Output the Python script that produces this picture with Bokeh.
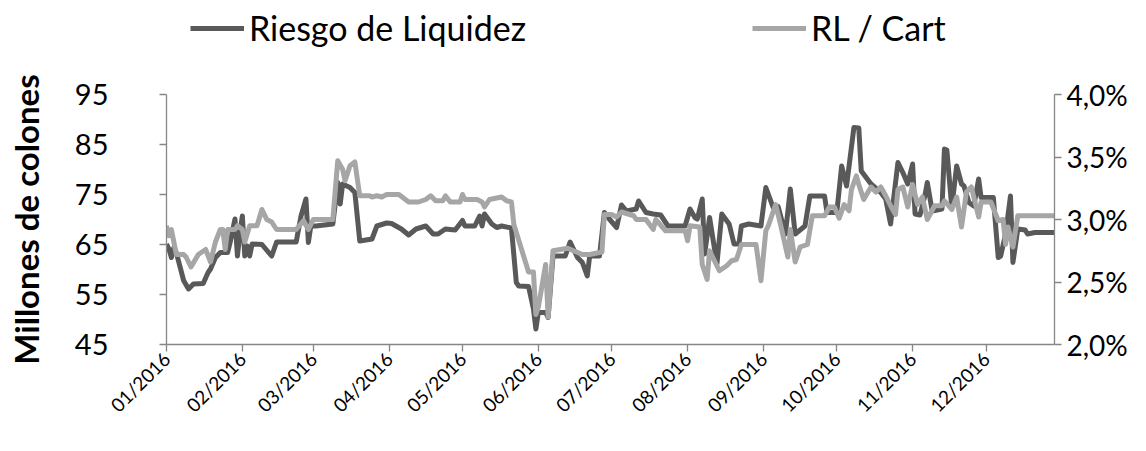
import pandas as pd
from datetime import datetime
from bokeh.plotting import figure
from bokeh.layouts import column
from bokeh.models import (Range1d, LinearAxis, FixedTicker, CustomJSTickFormatter,
                          DatetimeTickFormatter, MonthsTicker, Legend, LegendItem,
                          ColumnDataSource)
from bokeh.embed import file_html
from bokeh.resources import INLINE

# ---------------- data ----------------
fechas_riesgo = [
    # Jan
    "2016-01-01", "2016-01-02", "2016-01-03", "2016-01-04", "2016-01-05", "2016-01-08",
    "2016-01-10", "2016-01-12", "2016-01-16", "2016-01-18", "2016-01-19", "2016-01-21",
    "2016-01-23", "2016-01-26", "2016-01-27", "2016-01-29", "2016-01-30", "2016-01-31",
    # Feb
    "2016-02-01", "2016-02-02", "2016-02-03", "2016-02-04", "2016-02-05", "2016-02-09",
    "2016-02-13", "2016-02-15", "2016-02-23", "2016-02-25", "2016-02-27", "2016-02-28",
    "2016-02-29",
    # Mar
    "2016-03-02", "2016-03-09", "2016-03-11", "2016-03-12", "2016-03-13", "2016-03-16",
    "2016-03-18", "2016-03-20", "2016-03-25", "2016-03-27", "2016-03-31",
    # Apr
    "2016-04-02", "2016-04-06", "2016-04-09", "2016-04-12", "2016-04-16", "2016-04-19",
    "2016-04-21", "2016-04-24", "2016-04-28",
    # May
    "2016-05-01", "2016-05-02", "2016-05-06", "2016-05-08", "2016-05-09", "2016-05-10",
    "2016-05-13", "2016-05-15", "2016-05-17", "2016-05-21", "2016-05-23", "2016-05-24",
    "2016-05-28", "2016-05-30", "2016-05-31",
    # Jun
    "2016-06-01", "2016-06-04", "2016-06-05", "2016-06-07", "2016-06-12", "2016-06-14",
    "2016-06-17", "2016-06-19", "2016-06-21", "2016-06-22", "2016-06-26", "2016-06-28",
    "2016-06-30",
    # Jul
    "2016-07-03", "2016-07-05", "2016-07-07", "2016-07-11", "2016-07-12", "2016-07-15",
    "2016-07-18", "2016-07-21", "2016-07-24", "2016-07-31",
    # Aug
    "2016-08-02", "2016-08-04", "2016-08-05", "2016-08-07", "2016-08-08", "2016-08-10",
    "2016-08-13", "2016-08-15", "2016-08-18", "2016-08-20", "2016-08-22", "2016-08-23",
    "2016-08-26", "2016-08-31",
    # Sep
    "2016-09-02", "2016-09-05", "2016-09-07", "2016-09-10", "2016-09-12", "2016-09-14",
    "2016-09-18", "2016-09-20", "2016-09-26", "2016-09-27",
    # Oct
    "2016-10-01", "2016-10-03", "2016-10-05", "2016-10-08", "2016-10-10", "2016-10-11",
    "2016-10-15", "2016-10-19", "2016-10-21", "2016-10-23", "2016-10-26", "2016-10-28",
    "2016-10-30",
    # Nov
    "2016-11-01", "2016-11-02", "2016-11-04", "2016-11-06", "2016-11-07", "2016-11-09",
    "2016-11-13", "2016-11-14", "2016-11-15", "2016-11-17", "2016-11-19", "2016-11-21",
    "2016-11-22", "2016-11-24", "2016-11-26", "2016-11-28", "2016-11-29",
    # Dec
    "2016-12-04", "2016-12-06", "2016-12-07", "2016-12-09", "2016-12-11", "2016-12-12",
    "2016-12-14", "2016-12-17", "2016-12-18", "2016-12-21", "2016-12-29",
]
riesgo_liquidez = [
    65.1, 64.1, 62.4, 64.4, 63.4, 57.8, 56.1, 57.1, 57.2, 59.4, 60.1, 62.4, 63.4, 63.4, 65.4, 70.1, 62.7, 67.4,
    70.7, 62.7, 64.7, 62.7, 65.1, 65.0, 62.7, 65.5, 65.5, 70.7, 74.1, 65.4, 68.7,
    68.7, 69.1, 77.4, 73.1, 77.1, 76.4, 75.4, 65.7, 66.1, 68.7, 69.3,
    69.2, 68.1, 66.9, 68.1, 68.7, 67.1, 67.1, 68.1, 67.9,
    69.8, 68.7, 68.7, 70.7, 68.7, 71.1, 69.1, 68.4, 68.7, 68.3, 57.4, 56.7, 56.6, 52.1, 48.1,
    51.4, 51.4, 50.4, 62.7, 62.7, 65.5, 62.4, 61.4, 58.7, 62.7, 62.7, 71.4, 70.1,
    68.4, 72.9, 71.7, 72.1, 73.7, 71.4, 71.1, 70.9, 68.7, 68.7,
    72.1, 70.4, 70.1, 74.1, 63.1, 70.4, 61.1, 71.1, 69.1, 65.1, 65.1, 68.7, 69.1, 68.7,
    76.4, 72.4, 72.6, 67.1, 76.1, 67.1, 68.7, 74.7, 74.7, 71.4,
    71.4, 80.7, 76.7, 88.4, 88.3, 79.7, 77.1, 75.4, 74.1, 69.1, 81.4, 79.4, 77.1,
    81.1, 71.1, 70.9, 74.7, 77.4, 71.7, 72.1, 84.1, 83.9, 72.4, 80.7, 77.1, 76.7, 73.4, 72.7, 78.1, 74.4,
    74.4, 62.4, 62.7, 67.1, 74.7, 61.4, 68.1, 67.9, 67.1, 67.4, 67.4,
]

fechas_cart = [
    # Jan
    "2016-01-01", "2016-01-02", "2016-01-03", "2016-01-05", "2016-01-08", "2016-01-09",
    "2016-01-11", "2016-01-14", "2016-01-17", "2016-01-19", "2016-01-21", "2016-01-23",
    "2016-01-24", "2016-01-25", "2016-01-26", "2016-01-29", "2016-01-30",
    # Feb
    "2016-02-01", "2016-02-02", "2016-02-04", "2016-02-07", "2016-02-09", "2016-02-11",
    "2016-02-13", "2016-02-15", "2016-02-23", "2016-02-26", "2016-02-28",
    # Mar
    "2016-03-01", "2016-03-09", "2016-03-11", "2016-03-13", "2016-03-14", "2016-03-16",
    "2016-03-18", "2016-03-20", "2016-03-24", "2016-03-25", "2016-03-27", "2016-03-29",
    "2016-03-31",
    # Apr
    "2016-04-05", "2016-04-09", "2016-04-13", "2016-04-16", "2016-04-18", "2016-04-20",
    "2016-04-23", "2016-04-24", "2016-04-26", "2016-04-30",
    # May
    "2016-05-01", "2016-05-02", "2016-05-07", "2016-05-09", "2016-05-10", "2016-05-12",
    "2016-05-17", "2016-05-19", "2016-05-21", "2016-05-22", "2016-05-28", "2016-05-30",
    "2016-05-31",
    # Jun
    "2016-06-01", "2016-06-04", "2016-06-05", "2016-06-07", "2016-06-13", "2016-06-19",
    "2016-06-22", "2016-06-27", "2016-06-28",
    # Jul
    "2016-07-01", "2016-07-03", "2016-07-05", "2016-07-10", "2016-07-11", "2016-07-15",
    "2016-07-18", "2016-07-19", "2016-07-23", "2016-07-31",
    # Aug
    "2016-08-01", "2016-08-02", "2016-08-06", "2016-08-07", "2016-08-09", "2016-08-10",
    "2016-08-12", "2016-08-14", "2016-08-17", "2016-08-19", "2016-08-21", "2016-08-23",
    "2016-08-29", "2016-08-31",
    # Sep
    "2016-09-02", "2016-09-03", "2016-09-06", "2016-09-08", "2016-09-11", "2016-09-12",
    "2016-09-14", "2016-09-16", "2016-09-19", "2016-09-21", "2016-09-26", "2016-09-28",
    "2016-09-30",
    # Oct
    "2016-10-02", "2016-10-04", "2016-10-06", "2016-10-07", "2016-10-09", "2016-10-10",
    "2016-10-12", "2016-10-15", "2016-10-17", "2016-10-19", "2016-10-21", "2016-10-23",
    "2016-10-25", "2016-10-26", "2016-10-28", "2016-10-30",
    # Nov
    "2016-11-01", "2016-11-03", "2016-11-05", "2016-11-07", "2016-11-10", "2016-11-13",
    "2016-11-14", "2016-11-17", "2016-11-19", "2016-11-21", "2016-11-23", "2016-11-25",
    "2016-11-28", "2016-11-29",
    # Dec
    "2016-12-03", "2016-12-06", "2016-12-08", "2016-12-09", "2016-12-10", "2016-12-12",
    "2016-12-14", "2016-12-29",
]
rl_cart = [
    2.95, 2.87, 2.92, 2.72, 2.72, 2.70, 2.62, 2.72, 2.76, 2.66, 2.82, 2.92, 2.92, 2.76, 2.92, 2.92, 2.95,
    2.92, 2.82, 2.95, 2.95, 3.08, 3.00, 2.98, 2.92, 2.92, 2.99, 2.92,
    3.00, 3.00, 3.47, 3.40, 3.31, 3.43, 3.46, 3.19, 3.19, 3.18, 3.19, 3.18, 3.20,
    3.20, 3.14, 3.14, 3.16, 3.19, 3.15, 3.15, 3.19, 3.14, 3.14,
    3.20, 3.16, 3.16, 3.14, 3.10, 3.16, 3.18, 3.15, 3.14, 2.96, 2.58, 2.58, 2.24,
    2.30, 2.64, 2.22, 2.75, 2.77, 2.72, 2.72, 2.74, 3.04,
    3.04, 3.02, 3.06, 3.03, 3.00, 3.00, 2.92, 3.00, 2.91, 2.91,
    2.83, 2.95, 2.94, 2.64, 2.52, 2.75, 2.67, 2.59, 2.63, 2.67, 2.68, 2.80, 2.80, 2.51,
    2.91, 2.95, 3.12, 2.96, 2.70, 2.92, 2.66, 2.78, 2.80, 3.03, 3.03, 3.10, 3.10,
    3.01, 3.12, 3.07, 3.24, 3.35, 3.28, 3.16, 3.26, 3.22, 3.26, 3.19, 3.11, 3.04, 3.24, 3.26, 3.10,
    3.28, 3.12, 3.18, 3.00, 3.11, 3.11, 3.15, 3.08, 3.18, 2.94, 3.22, 3.26, 3.02, 3.14,
    3.14, 2.99, 3.00, 2.80, 2.94, 2.78, 3.03, 3.03,
]

ticks_izq = [45, 55, 65, 75, 85, 95]
ticks_der = [2.0, 2.5, 3.0, 3.5, 4.0]
serie_nombres = ["Riesgo de Liquidez", "RL / Cart"]
eje_titulo = "Millones de colones"

# ---------------- styling ----------------
FONT = "Lato"
DARK = "#595959"
LIGHT = "#a6a6a6"
AXIS = "#868686"
LW = 5

src_r = ColumnDataSource(dict(x=pd.to_datetime(fechas_riesgo), y=riesgo_liquidez))
src_c = ColumnDataSource(dict(x=pd.to_datetime(fechas_cart), y=rl_cart))

# ---------- legend strip (top) ----------
# Its frame is aligned by the column layout with the main chart's frame;
# the series fall outside its (0..1) ranges, so only the legend swatches show.
lf = figure(width=1130, height=60, x_range=Range1d(0, 1), y_range=Range1d(0, 1),
            output_backend="svg", toolbar_location=None,
            x_axis_location=None, y_axis_location=None, min_border=0)
lf.outline_line_color = None
lf.grid.visible = False
lf.background_fill_color = "white"
lf.border_fill_color = "white"
d1 = lf.line("x", "y", source=src_r, line_color=DARK, line_width=LW)
d2 = lf.line("x", "y", source=src_c, line_color=LIGHT, line_width=LW)

def make_legend(label, rend, x):
    lg = Legend(items=[LegendItem(label=label, renderers=[rend])],
                orientation="horizontal", location=(x, 12))
    lg.border_line_color = None
    lg.background_fill_alpha = 0
    lg.padding = 0
    lg.margin = 0
    lg.glyph_width = 54
    lg.glyph_height = 20
    lg.label_standoff = 5
    lg.label_text_font = FONT
    lg.label_text_font_size = "34px"
    lg.label_text_color = "#000000"
    return lg

lf.add_layout(make_legend(serie_nombres[0], d1, 24), "center")
lf.add_layout(make_legend(serie_nombres[1], d2, 586), "center")

# ---------- main chart ----------
p = figure(width=1130, height=375, x_axis_type="datetime",
           x_range=Range1d(datetime(2016, 1, 1), datetime(2016, 12, 29)),
           y_range=Range1d(45, 95),
           output_backend="svg", toolbar_location=None,
           min_border_left=166, min_border_right=76, min_border_top=34, min_border_bottom=91)
p.outline_line_color = None
p.xgrid.visible = False
p.ygrid.visible = False
p.background_fill_color = "white"
p.border_fill_color = "white"

p.extra_y_ranges = {"pct": Range1d(2.0, 4.0)}

r1 = p.line("x", "y", source=src_r, line_color=DARK, line_width=LW, line_join="round")
r2 = p.line("x", "y", source=src_c, y_range_name="pct", line_color=LIGHT, line_width=LW,
            line_join="round")

# left axis
ya = p.yaxis[0]
ya.ticker = FixedTicker(ticks=ticks_izq)
ya.axis_label = eje_titulo
ya.axis_label_text_font = FONT
ya.axis_label_text_font_style = "bold"
ya.axis_label_text_font_size = "33px"
ya.axis_label_text_color = "#000000"
ya.axis_label_standoff = 26
ya.major_label_text_font = FONT
ya.major_label_text_font_size = "29px"
ya.major_label_text_color = "#000000"
ya.major_label_standoff = 51

# right axis
ra = LinearAxis(y_range_name="pct", ticker=FixedTicker(ticks=ticks_der),
                formatter=CustomJSTickFormatter(
                    code="return tick.toFixed(1).replace('.', ',') + '%';"))
ra.major_label_text_font = FONT
ra.major_label_text_font_size = "28px"
ra.major_label_text_color = "#000000"
ra.major_label_standoff = 5
p.add_layout(ra, "right")

# x axis
xa = p.xaxis[0]
xa.ticker = MonthsTicker(months=list(range(12)))
xa.formatter = DatetimeTickFormatter(days="%m/%Y", months="%m/%Y", years="%m/%Y")
xa.major_label_orientation = 0.785
xa.major_label_text_font = FONT
xa.major_label_text_font_size = "19px"
xa.major_label_text_color = "#000000"
xa.major_label_standoff = 4

for ax in (ya, ra, xa):
    ax.axis_line_color = AXIS
    ax.axis_line_width = 1.3
    ax.major_tick_line_color = AXIS
    ax.major_tick_line_width = 1.3
    ax.major_tick_out = 7
    ax.major_tick_in = 0
    ax.minor_tick_out = 0
    ax.minor_tick_in = 0

layout = column(lf, p, spacing=0)
open("out.html", "w").write(file_html(layout, INLINE))
